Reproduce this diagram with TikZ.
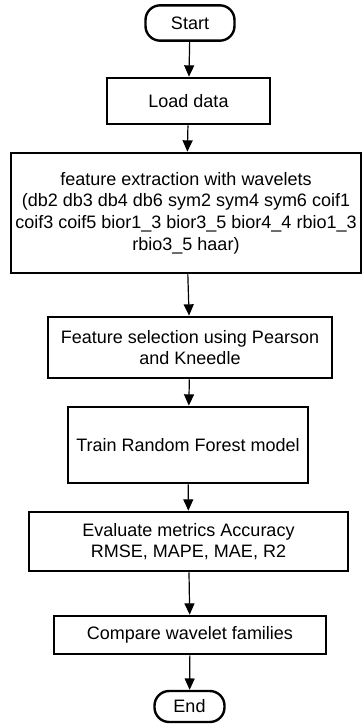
\documentclass[tikz,border=0pt]{standalone}
\usepackage{fontspec}
\setmainfont{Liberation Sans}
\usetikzlibrary{arrows.meta}

\begin{document}
\begin{tikzpicture}[x=0.75pt, y=-0.75pt,
  every node/.style={font=\fontsize{13.5}{16.2}\selectfont, align=center, inner sep=0pt},
  proc/.style={draw, line width=2pt, rectangle},
  term/.style={draw, line width=1.8pt, rounded corners=11pt},
  flow/.style={-{Triangle[width=7.5pt,length=8.5pt]}, line width=0.9pt}]
\useasboundingbox (0,0) rectangle (363,724);

% Terminals and steps, top to bottom
\node[term, minimum width=66.75pt, minimum height=26.5pt] (start) at (190, 23) {Start};
\node[proc, minimum width=122.25pt, minimum height=34.5pt] (load) at (188.5, 101) {Load data};
\node[proc, minimum width=262.5pt, minimum height=90pt] (extract) at (186, 213)
  {feature extraction with wavelets\\
   (db2 db3 db4 db6 sym2 sym4 sym6 coif1\\
   coif3 coif5 bior1\_3 bior3\_5 bior4\_4 rbio1\_3\\
   rbio3\_5 haar)};
\node[proc, minimum width=213pt, minimum height=45.75pt] (select) at (190, 347.5)
  {Feature selection using Pearson\\ and Kneedle};
\node[proc, minimum width=180pt, minimum height=57pt] (train) at (188, 445) {Train Random Forest model};
\node[proc, minimum width=239.25pt, minimum height=44.25pt] (eval) at (188.5, 541.5)
  {Evaluate metrics Accuracy\\ RMSE, MAPE, MAE, R2};
\node[proc, minimum width=204pt, minimum height=28.5pt] (compare) at (190, 635) {Compare wavelet families};
\node[term, minimum width=52.5pt, minimum height=23.25pt] (end) at (189.5, 706.5) {End};

% Flow arrows
\draw[flow] (start) -- (load);
\draw[flow] (load) -- (extract);
\draw[flow] (extract) -- (select);
\draw[flow] (select) -- (train);
\draw[flow] (train) -- (eval);
\draw[flow] (eval) -- (compare);
\draw[flow] (compare) -- (end);
\end{tikzpicture}
\end{document}
